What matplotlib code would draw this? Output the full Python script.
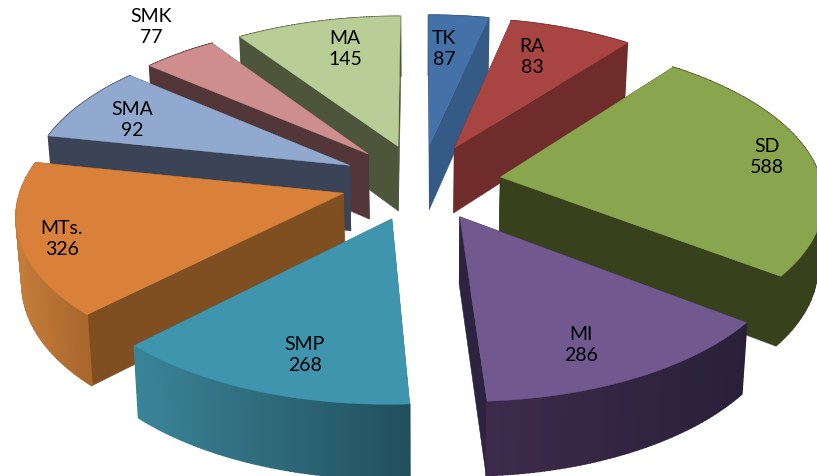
import numpy as np
import matplotlib
matplotlib.use("Agg")
import matplotlib.pyplot as plt
from matplotlib.colors import to_rgb
from matplotlib.patches import Polygon

categories = ['TK', 'RA', 'SD', 'MI', 'SMP', 'MTs.', 'SMA', 'SMK', 'MA']
values = [87, 83, 588, 286, 268, 326, 92, 77, 145]

# the original 3D pie does not keep its slices true to the numbers,
# back slices come out wider, so each share gets its own stretch
stretch = [0.78, 1.68, 0.83, 0.945, 0.98, 0.955, 1.7, 1.1, 1.29]

top_colors = ['#4472a8', '#a84442', '#89a54e', '#71588f', '#4095ae',
              '#d9803b', '#92a9cf', '#cd8e8d', '#b9cd96']
cut_colors = ['#355a85', '#6f2c2b', '#37411c', '#2c2340', '#2c6a7c',
              '#7f4f22', '#3b4356', '#533738', '#4d563a']
rim_left = ['#355a85', '#6f2c2b', '#37411c', '#3e2b4c', '#3a8498',
            '#c47c3a', '#3b4356', '#533738', '#4d563a']
rim_right = ['#355a85', '#6f2c2b', '#37411c', '#292038', '#214f5c',
             '#a9662c', '#3b4356', '#533738', '#4d563a']
label_x = [444, 532, 767, 581, 305, 62, 132, 151, 345]
label_y = [49, 57, 157, 345, 355, 239, 120, 27, 49]

cx, cy = 421, 183
rx, ry = 321, 153.5
persp = 0.12
explode = 0.25
depth = 66


def project(u, v):
    s = 1 / (1 + persp * v)
    return cx + rx * u * s, cy - ry * v * s, s


def drop(x, y, s):
    # lower edge of the wall under a point of the top face
    return cx + (x - cx) * 0.985, y + depth * s ** 0.75


shares = np.array(values) * np.array(stretch)
sweeps = shares / shares.sum() * 2 * np.pi
ends = np.cumsum(sweeps)
starts = ends - sweeps
mids = (starts + ends) / 2

fig = plt.figure(figsize=(8.17, 4.77), dpi=100)
ax = fig.add_axes([0, 0, 1, 1])
ax.set_xlim(0, 817)
ax.set_ylim(477, 0)
ax.axis('off')

# painter's order, back slices first
for i in np.argsort(-np.cos(mids)):
    ou, ov = explode * np.sin(mids[i]), explode * np.cos(mids[i])
    t = np.linspace(starts[i], ends[i], 60)
    rx_pts, ry_pts, rs = project(ou + np.sin(t), ov + np.cos(t))
    ax_pt, ay_pt, a_s = project(ou, ov)
    bx, by = drop(rx_pts, ry_pts, rs)
    abx, aby = drop(ax_pt, ay_pt, a_s)

    # flat cut walls
    for k in (0, -1):
        ax.add_patch(Polygon([(ax_pt, ay_pt), (rx_pts[k], ry_pts[k]), (bx[k], by[k]), (abx, aby)],
                             fc=cut_colors[i], ec=cut_colors[i], lw=0.4))

    # curved outer wall, in strips for the shading
    left, right = np.array(to_rgb(rim_left[i])), np.array(to_rgb(rim_right[i]))
    x0, x1 = rx_pts.min(), rx_pts.max()
    for j in range(len(t) - 1):
        f = ((rx_pts[j] + rx_pts[j + 1]) / 2 - x0) / (x1 - x0)
        col = left + (right - left) * f
        ax.add_patch(Polygon([(rx_pts[j], ry_pts[j]), (rx_pts[j + 1], ry_pts[j + 1]),
                              (bx[j + 1], by[j + 1]), (bx[j], by[j])],
                             fc=col, ec=col, lw=1.2))

    ax.add_patch(Polygon(np.column_stack([np.r_[ax_pt, rx_pts], np.r_[ay_pt, ry_pts]]),
                         fc=top_colors[i], ec=top_colors[i], lw=0.3))

for name, val, x, y in zip(categories, values, label_x, label_y):
    ax.text(x, y, '%s\n%d' % (name, val), ha='center', va='center',
            family='Lato', fontsize=14, color='black', linespacing=1.3)

fig.savefig('out.png', dpi=100)
